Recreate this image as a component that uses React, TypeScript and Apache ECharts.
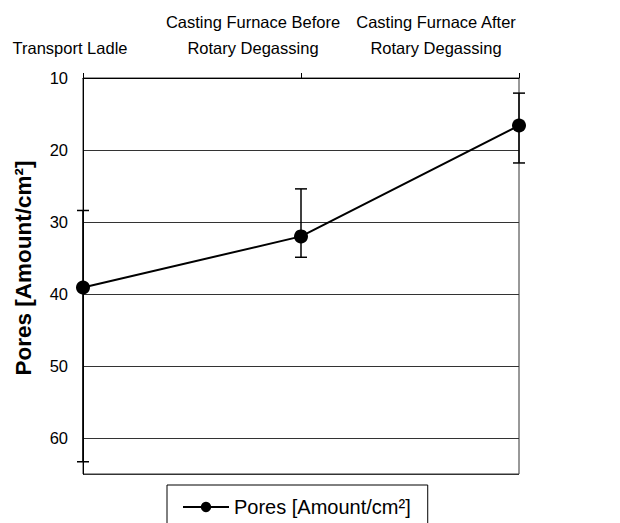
import React, { useEffect, useRef } from "react";
import * as echarts from "echarts";

const categories = [
  "Transport Ladle",
  "Casting Furnace Before\nRotary Degassing",
  "Casting Furnace After\nRotary Degassing",
];
const poresValues = [39.1, 32.0, 16.6];
const errorLow = [28.4, 25.4, 12.1];
const errorHigh = [63.3, 34.9, 21.8];
const seriesName = "Pores [Amount/cm²]";
const yTicks = [10, 20, 30, 40, 50, 60];

const FONT = "'Liberation Sans', Arial, sans-serif";

export default function App() {
  const ref = useRef<HTMLDivElement>(null);
  useEffect(() => {
    if (!ref.current) return;
    const chart = echarts.init(ref.current, undefined, { renderer: "svg" });
    const errData = categories.map((_, i) => [i, errorLow[i], errorHigh[i]]);
    chart.setOption({
      animation: false,
      textStyle: { fontFamily: FONT },
      grid: [
        {
          left: 83,
          right: 101,
          top: 78,
          bottom: 49,
          show: true,
          borderColor: "#333",
          borderWidth: 1,
        },
        { left: 70, right: 184, top: 78, height: 10 },
      ],
      legend: {
        data: [seriesName],
        left: 167,
        top: 485,
        padding: [12, 17, 30, 15],
        borderColor: "#000",
        borderWidth: 1,
        itemWidth: 46,
        itemHeight: 13,
        itemGap: 6,
        textStyle: { fontSize: 20, color: "#000", fontFamily: FONT },
      },
      xAxis: [
        {
          type: "category",
          data: categories,
          gridIndex: 0,
          position: "top",
          boundaryGap: false,
          axisLine: { show: true, lineStyle: { color: "#000", width: 1 } },
          axisTick: { show: true, inside: false, length: 5, lineStyle: { color: "#000" } },
          axisLabel: { show: false },
          splitLine: { show: false },
        },
        {
          type: "category",
          data: categories,
          gridIndex: 1,
          position: "top",
          boundaryGap: false,
          axisLine: { show: false },
          axisTick: { show: false },
          axisLabel: {
            show: true,
            interval: 0,
            hideOverlap: false,
            fontSize: 16.5,
            lineHeight: 26,
            color: "#000",
            margin: 17,
            fontFamily: FONT,
          },
          splitLine: { show: false },
        },
      ],
      yAxis: [
        {
          type: "value",
          gridIndex: 0,
          inverse: true,
          min: 10,
          max: 65,
          interval: 10,
          name: seriesName,
          nameLocation: "middle",
          nameGap: 48,
          nameTextStyle: {
            fontSize: 22.5,
            fontWeight: "bold",
            color: "#000",
            fontFamily: FONT,
            padding: [0, 0, 0, 16],
          },
          axisLine: { show: true, lineStyle: { color: "#000", width: 1 } },
          axisTick: { show: false },
          axisLabel: {
            fontSize: 16.5,
            color: "#000",
            margin: 15,
            fontFamily: FONT,
            formatter: (v: number) => (yTicks.includes(v) ? String(v) : ""),
          },
          splitLine: { show: true, lineStyle: { color: "#333", width: 1 } },
        },
        { type: "value", gridIndex: 1, show: false },
      ],
      series: [
        {
          type: "custom",
          name: "error",
          xAxisIndex: 0,
          yAxisIndex: 0,
          clip: false,
          z: 2,
          data: errData,
          renderItem: (params: any, api: any) => {
            const x = api.value(0);
            const lo = api.coord([x, api.value(1)]);
            const hi = api.coord([x, api.value(2)]);
            const hw = 6;
            const style = { stroke: "#000", lineWidth: 1.5 };
            return {
              type: "group",
              children: [
                { type: "line", shape: { x1: lo[0], y1: lo[1], x2: hi[0], y2: hi[1] }, style },
                { type: "line", shape: { x1: lo[0] - hw, y1: lo[1], x2: lo[0] + hw, y2: lo[1] }, style },
                { type: "line", shape: { x1: hi[0] - hw, y1: hi[1], x2: hi[0] + hw, y2: hi[1] }, style },
              ],
            };
          },
        },
        {
          type: "line",
          name: seriesName,
          xAxisIndex: 0,
          yAxisIndex: 0,
          data: poresValues,
          symbol: "circle",
          symbolSize: 14,
          showAllSymbol: true,
          clip: false,
          z: 3,
          itemStyle: { color: "#000" },
          lineStyle: { color: "#000", width: 2 },
        },
      ],
    });
    return () => chart.dispose();
  }, []);
  return (
    <div
      ref={ref}
      style={{ position: "fixed", left: 0, top: 0, width: 620, height: 523, background: "#fff" }}
    />
  );
}
